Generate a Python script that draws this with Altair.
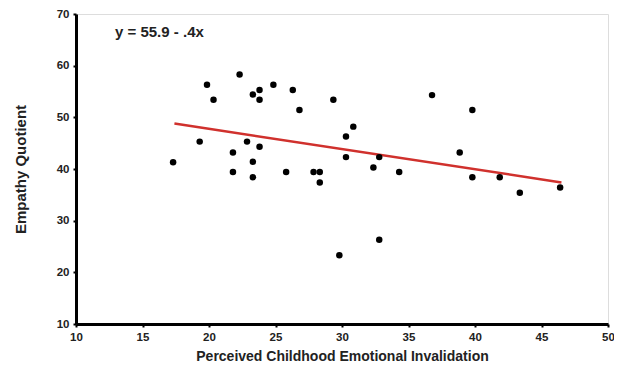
import altair as alt
import pandas as pd

# Scatter data
x_vals = [17.3, 19.3, 19.85, 20.34, 22.3, 21.8, 21.8, 22.86, 23.3, 23.3, 23.3, 23.8, 23.8, 23.8,
          24.84, 25.8, 26.3, 26.8, 29.35, 30.3, 30.85, 30.3, 32.8, 32.36, 34.3, 27.86, 28.33,
          28.33, 36.77, 39.8, 38.85, 39.8, 41.86, 46.4, 43.37, 29.8, 32.8]
y_vals = [41.3, 45.3, 56.3, 53.4, 58.3, 43.2, 39.4, 45.3, 41.4, 38.4, 54.4, 55.3, 53.4, 44.3,
          56.3, 39.4, 55.3, 51.4, 53.4, 46.3, 48.2, 42.3, 42.3, 40.3, 39.4, 39.4, 39.4,
          37.4, 54.3, 51.4, 43.2, 38.4, 38.4, 36.4, 35.4, 23.3, 26.3]

# Fitted line endpoints (y = 55.9 - .4x)
line_x = [17.4, 46.5]
line_y = [48.8, 37.4]

equation = "y = 55.9 - .4x"

pts = pd.DataFrame({"x": x_vals, "y": y_vals})
ln = pd.DataFrame({"x": line_x, "y": line_y})

xs = alt.Scale(domain=[10, 50], nice=False)
ys = alt.Scale(domain=[10, 70], nice=False)

xaxis = alt.Axis(values=[10, 15, 20, 25, 30, 35, 40, 45, 50], title="Perceived  Childhood Emotional Invalidation",
                 grid=False, labelFont="Liberation Sans", labelFontWeight="bold", labelFontSize=11.5,
                 labelColor="#222", titleFont="Liberation Sans", titleFontWeight="bold", titleFontSize=14,
                 titleColor="#222", titlePadding=7, labelPadding=4, domainColor="black", domainWidth=3,
                 tickColor="black", tickSize=3, tickWidth=2, labelFlush=False)
yaxis = alt.Axis(values=[10, 20, 30, 40, 50, 60, 70], title="Empathy Quotient",
                 grid=False, labelFont="Liberation Sans", labelFontWeight="bold", labelFontSize=11.5,
                 labelColor="#222", titleFont="Liberation Sans", titleFontWeight="bold", titleFontSize=15,
                 titleColor="#222", titlePadding=28, labelPadding=4, domainColor="black", domainWidth=3,
                 tickColor="black", tickSize=3, tickWidth=2, labelFlush=False)

points = alt.Chart(pts).mark_circle(size=42, color="black", opacity=1).encode(
    x=alt.X("x:Q", scale=xs, axis=xaxis),
    y=alt.Y("y:Q", scale=ys, axis=yaxis),
)

line = alt.Chart(ln).mark_line(color="#d0312d", strokeWidth=2.5).encode(
    x=alt.X("x:Q", scale=xs),
    y=alt.Y("y:Q", scale=ys),
)

text = alt.Chart(pd.DataFrame({"t": [equation]})).mark_text(
    align="left", baseline="middle", font="Liberation Sans", fontWeight="bold", fontSize=15, color="#222"
).encode(x=alt.value(39), y=alt.value(18), text="t:N")

chart = alt.layer(line, points, text).properties(
    width=532, height=310,
    autosize=alt.AutoSizeParams(type="none"),
    padding={"left": 68, "top": 6, "right": 6, "bottom": 42},
).configure_view(stroke=None).configure(background="white")

chart.save("out.html", embed_options={"renderer": "svg", "actions": False})
